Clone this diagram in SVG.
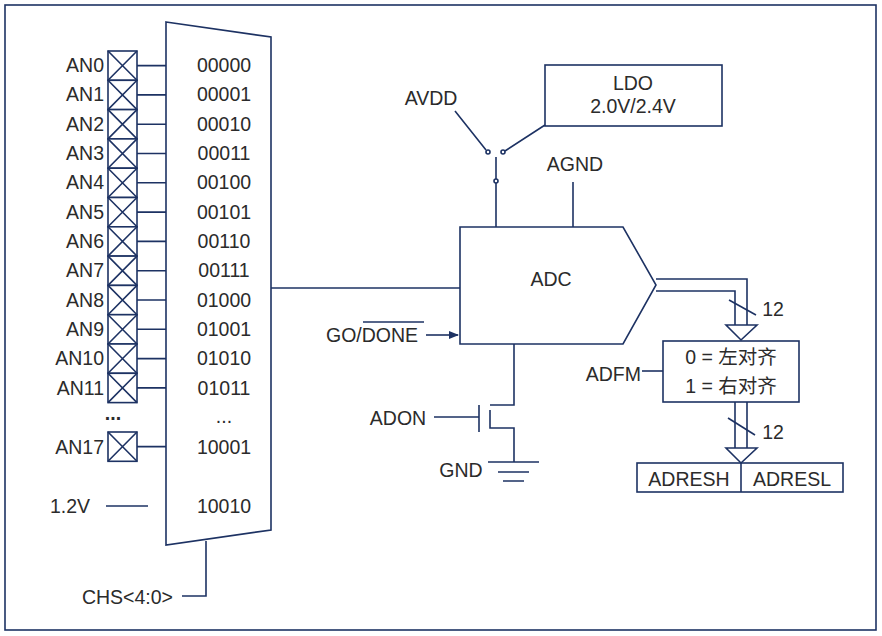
<svg xmlns="http://www.w3.org/2000/svg" width="882" height="636" viewBox="0 0 882 636">
<style>
.l{stroke:#1d3263;stroke-width:1.6;fill:none}
.b{stroke:#1d3263;stroke-width:1.6;fill:#fff}
text{font-family:"Liberation Sans","Noto Sans CJK SC",sans-serif;font-size:19.5px;fill:#2b2b2b}
.r{text-anchor:end}.m{text-anchor:middle}
</style>
<defs>
<marker id="a" markerWidth="10" markerHeight="8" refX="9" refY="4" orient="auto" markerUnits="userSpaceOnUse"><path d="M0,0L10,4L0,8z" fill="#1d3263"/></marker>
<g id="x"><rect x="0" y="0" width="29" height="29.3" class="b"/><path d="M0,0L29,29.3M29,0L0,29.3" class="l"/></g>
</defs>
<rect x="5" y="5" width="871" height="625" class="l"/>
<g id="mux">
<path d="M166,22L271,37L271,530L166,545z" class="b"/>
<g class="m">
<text x="224" y="72">00000</text><text x="224" y="101">00001</text><text x="224" y="131">00010</text><text x="224" y="160">00011</text><text x="224" y="189">00100</text><text x="224" y="219">00101</text><text x="224" y="248">00110</text><text x="224" y="277">00111</text><text x="224" y="307">01000</text><text x="224" y="336">01001</text><text x="224" y="365">01010</text><text x="224" y="395">01011</text><text x="224" y="423">...</text><text x="224" y="454">10001</text><text x="224" y="513">10010</text>
</g></g>
<g id="pins">
<use href="#x" x="108" y="51"/><use href="#x" x="108" y="80.3"/><use href="#x" x="108" y="109.6"/><use href="#x" x="108" y="138.9"/><use href="#x" x="108" y="168.2"/><use href="#x" x="108" y="197.5"/><use href="#x" x="108" y="226.8"/><use href="#x" x="108" y="256.1"/><use href="#x" x="108" y="285.4"/><use href="#x" x="108" y="314.7"/><use href="#x" x="108" y="344"/><use href="#x" x="108" y="373.3"/><use href="#x" x="108" y="432"/>
<g class="r">
<text x="104" y="72">AN0</text><text x="104" y="101">AN1</text><text x="104" y="131">AN2</text><text x="104" y="160">AN3</text><text x="104" y="189">AN4</text><text x="104" y="219">AN5</text><text x="104" y="248">AN6</text><text x="104" y="277">AN7</text><text x="104" y="307">AN8</text><text x="104" y="336">AN9</text><text x="104" y="365">AN10</text><text x="104" y="395">AN11</text><text x="104" y="454">AN17</text>
</g>
<text x="113" y="420" class="m" style="font-weight:bold">...</text>
<text x="70" y="513" class="m">1.2V</text>
<text x="173" y="604" class="r">CHS&lt;4:0&gt;</text>
</g>
<g id="ldo"><rect x="545" y="65" width="177" height="61" class="b"/><text x="633" y="90" class="m">LDO</text><text x="633" y="113" class="m">2.0V/2.4V</text></g>
<g id="adc"><path d="M460,227L623,227L656,285L623,344L460,344z" class="b"/><text x="551" y="286" class="m">ADC</text></g>
<g id="fmt"><rect x="663" y="341" width="136" height="61" class="b"/><text x="731" y="364" class="m">0 = 左对齐</text><text x="731" y="393" class="m">1 = 右对齐</text></g>
<g id="reg"><rect x="637" y="463" width="206" height="29" class="b"/><line x1="741" y1="463" x2="741" y2="492" class="l"/><text x="689" y="486" class="m">ADRESH</text><text x="792" y="486" class="m">ADRESL</text></g>
<g id="labels">
<text x="431" y="105" class="m">AVDD</text><text x="575" y="171" class="m">AGND</text>
<text x="326" y="342">GO/DONE</text><line x1="363" y1="322" x2="424" y2="322" class="l"/>
<text x="641" y="381" class="r">ADFM</text>
<text x="398" y="425" class="m">ADON</text><text x="461" y="477" class="m">GND</text>
<text x="773" y="316" class="m">12</text><text x="773" y="439" class="m">12</text>
</g>
<g id="connectors">
<g class="l">
<path d="M137,65.6H166M137,94.9H166M137,124.2H166M137,153.5H166M137,182.8H166M137,212.1H166M137,241.4H166M137,270.7H166M137,300H166M137,329.3H166M137,358.6H166M137,387.9H166M137,446.6H166"/>
<path d="M106,506H148"/>
<path d="M206,541V596H182"/>
<path d="M271,288H460"/>
<path d="M426,335H458" marker-end="url(#a)"/>
<path d="M455,111L486,150M505,151L545,125"/>
<path d="M496,157V179M496,183V227"/>
<path d="M573,182V227"/>
<path d="M656,279H747V325M656,291H735V325M726,325H757L741,340L726,325z"/>
<path d="M729,300L756,315"/>
<path d="M642,371H663"/>
<path d="M735,402V448M747,402V448M726,448H757L741,463L726,448z"/>
<path d="M728,418L755,435"/>
<path d="M514,344V405H490M479,405V432M490,410V428H514V462M434,417H479"/>
<path d="M488,462H539M498,472H529M503,481H524"/>
</g>
<circle cx="488" cy="152" r="2" class="b"/><circle cx="503" cy="152" r="2" class="b"/><circle cx="496" cy="181" r="2" class="b"/>
</g>
</svg>
